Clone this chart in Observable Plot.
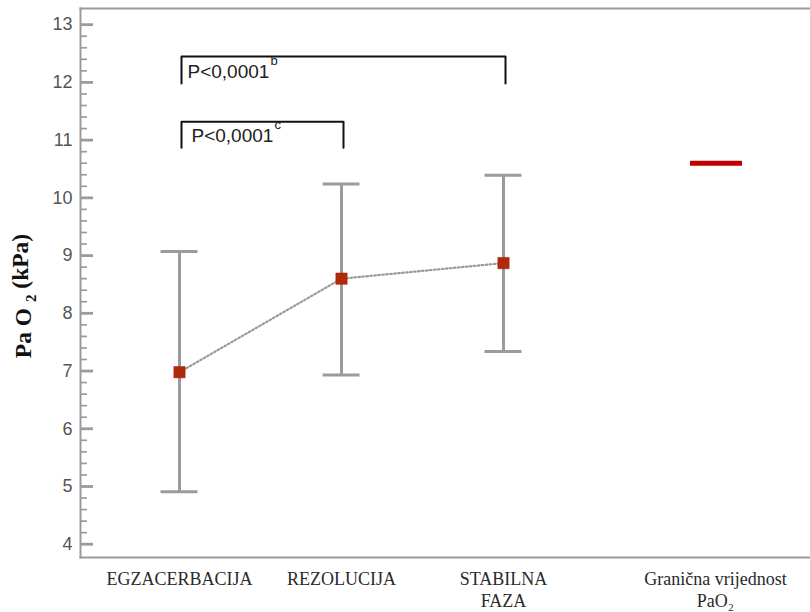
<!DOCTYPE html>
<html><head><meta charset="utf-8">
<script src="https://cdn.jsdelivr.net/npm/d3@7"></script>
<script src="https://cdn.jsdelivr.net/npm/@observablehq/plot@0.6"></script>
<style>body{margin:0;background:#fff}</style>
</head><body><div id="chart"></div>
<script>
// ---- data ----
const categories = ["EGZACERBACIJA", "REZOLUCIJA", "STABILNA FAZA", "Granična vrijednost PaO2"];
const categoryLabels = ["EGZACERBACIJA", "REZOLUCIJA", "STABILNA\nFAZA", "Granična vrijednost\nPaO₂"];
const means = [6.98, 8.60, 8.87];
const lowerBar = [4.91, 6.93, 7.34];
const upperBar = [9.07, 10.24, 10.39];
const thresholdValue = 10.6;
const yTicks = [4, 5, 6, 7, 8, 9, 10, 11, 12, 13];
const bracketFrom = [0, 0];
const bracketTo = [2, 1];
const bracketTop = [12.45, 11.32];
const bracketEnd = [11.98, 10.87];
const bracketText = ["P<0,0001", "P<0,0001"];
const bracketSup = ["b", "c"];
const yLabelMain = "Pa O";
const yLabelSub = "2";
const yLabelUnit = "(kPa)";

// ---- derived tables ----
const groups = means.map((m, i) => ({cat: categories[i], mean: m, lo: lowerBar[i], hi: upperBar[i]}));
const minorTicks = [];
for (let t = 4; t < 13; t++) for (let k = 1; k < 5; k++) minorTicks.push(+(t + k * 0.2).toFixed(1));
const bracketPts = [];
bracketFrom.forEach((f, i) => {
  bracketPts.push({b: i, x: categories[f], y: bracketEnd[i]});
  bracketPts.push({b: i, x: categories[f], y: bracketTop[i]});
  bracketPts.push({b: i, x: categories[bracketTo[i]], y: bracketTop[i]});
  bracketPts.push({b: i, x: categories[bracketTo[i]], y: bracketEnd[i]});
});
const bracketLabels = bracketText.map((t, i) => ({x: categories[bracketFrom[i]], y: bracketEnd[i], t, s: bracketSup[i], i}));
const xLabels = categories.map((c, i) => ({cat: c, label: categoryLabels[i]}));

const gray = "#9b9b9b";
const serif = "'Liberation Serif', 'Times New Roman', serif";
const sans = "'Liberation Sans', Arial, sans-serif";
const labelDx = [8, 12];

const chart = Plot.plot({
  width: 810, height: 612,
  marginLeft: 80, marginTop: 8, marginRight: 0, marginBottom: 55,
  style: {background: "#fff"},
  x: {type: "point", domain: categories, range: [179, 665], padding: 0, axis: null},
  y: {domain: [3.77, 13.28], axis: null},
  marks: [
    Plot.frame({anchor: "top", stroke: gray, strokeWidth: 2}),
    Plot.frame({anchor: "bottom", stroke: gray, strokeWidth: 2}),
    Plot.frame({anchor: "left", stroke: gray, strokeWidth: 2}),
    Plot.axisY(minorTicks, {tickSize: -7, fill: "none", stroke: gray, strokeWidth: 1.7, label: null}),
    Plot.axisY(yTicks, {tickSize: -13, fill: "none", stroke: gray, strokeWidth: 2.8, label: null}),
    Plot.axisY(yTicks, {tickSize: 0, tickPadding: 8, tickFormat: d3.format("d"), fill: "#555", fontSize: 18, fontFamily: sans, label: null}),
    // category labels (serif), the threshold column sits a bit further right
    Plot.text(xLabels.slice(0, 3), {x: "cat", text: "label", frameAnchor: "bottom", lineAnchor: "top", dy: 12.5, fontSize: 18, fontFamily: serif, fill: "#2a2a2a", lineHeight: 1.2}),
    Plot.text(xLabels.slice(3), {x: "cat", text: "label", frameAnchor: "bottom", lineAnchor: "top", dy: 12.5, dx: 50, fontSize: 18, fontFamily: serif, fill: "#2a2a2a", lineHeight: 1.2}),
    // error bars
    Plot.ruleX(groups, {x: "cat", y1: "lo", y2: "hi", stroke: gray, strokeWidth: 3}),
    Plot.ruleY(groups, {y: "hi", x1: "cat", x2: "cat", insetLeft: -18.5, insetRight: -18.5, stroke: gray, strokeWidth: 3}),
    Plot.ruleY(groups, {y: "lo", x1: "cat", x2: "cat", insetLeft: -18.5, insetRight: -18.5, stroke: gray, strokeWidth: 3}),
    // dotted connecting line
    Plot.line(groups, {x: "cat", y: "mean", stroke: "#999", strokeWidth: 2.2, strokeDasharray: "1.6,2.4"}),
    Plot.dot(groups, {x: "cat", y: "mean", symbol: "square", r: 6.4, fill: "#b0290a", stroke: "#a02208", strokeWidth: 0.5}),
    // threshold
    Plot.ruleY([thresholdValue], {y: d => d, x1: () => categories[3], x2: () => categories[3], insetLeft: -26, insetRight: -26, dx: 51, stroke: "#c00000", strokeWidth: 5}),
    // brackets
    Plot.line(bracketPts, {x: "x", y: "y", z: "b", dx: 2, stroke: "#111", strokeWidth: 2, strokeLinejoin: "round", strokeLinecap: "round"}),
    ...bracketLabels.map(b => Plot.text([b], {x: "x", y: "y", text: "t", dx: labelDx[b.i], dy: -12, textAnchor: "start", lineAnchor: "middle", fontSize: 19, fontFamily: sans, fill: "#222"})),
    ...bracketLabels.map(b => Plot.text([b], {x: "x", y: "y", text: "s", dx: labelDx[b.i] + 83, dy: -22.5, textAnchor: "start", lineAnchor: "middle", fontSize: 13, fontFamily: sans, fill: "#222"})),
    // y-axis title (sub-script part is added as a tspan below)
    Plot.text([yLabelMain], {frameAnchor: "left", text: d => d, rotate: -90, dx: -57, dy: 13, textAnchor: "middle", fontSize: 23.5, fontWeight: "bold", fontFamily: serif, fill: "#111"})
  ]
});
document.getElementById("chart").appendChild(chart);

// enrich the y title with subscript and unit as real text (tspans)
d3.select(chart).selectAll("text").filter(function () { return this.textContent === yLabelMain; })
  .each(function () {
    const t = d3.select(this);
    t.text(null);
    t.append("tspan").text(yLabelMain + " ");
    t.append("tspan").attr("font-size", "15px").attr("dy", "0.3em").text(yLabelSub);
    t.append("tspan").attr("dy", "-0.3em").text(" " + yLabelUnit);
  });
</script>
</body></html>
